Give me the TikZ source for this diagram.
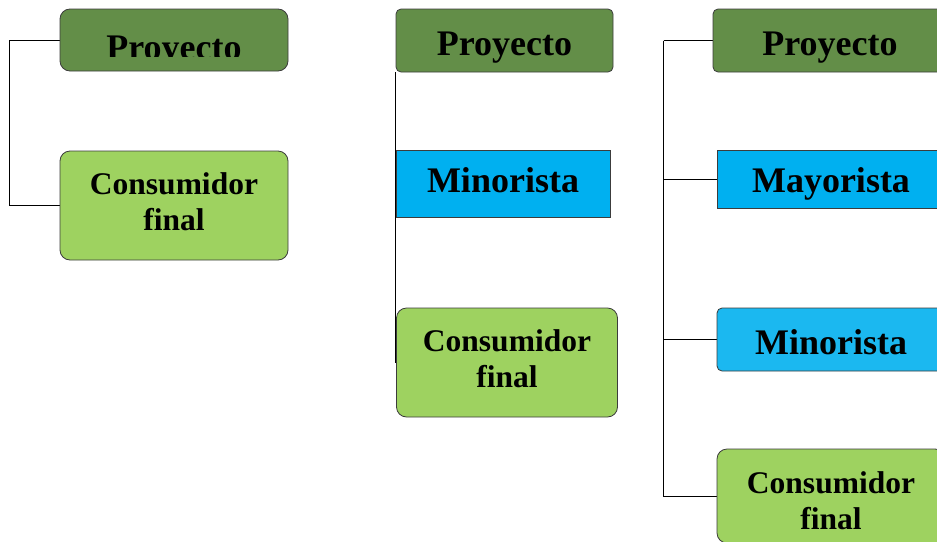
\documentclass[tikz,border=0pt]{standalone}
\usepackage{fontspec}
\setmainfont{Liberation Serif}
\usetikzlibrary{backgrounds}
\definecolor{proyectogreen}{RGB}{99,142,72}
\definecolor{consumidorgreen}{RGB}{158,210,96}
\definecolor{canalblue}{RGB}{0,176,240}
\definecolor{canallight}{RGB}{27,184,240}
\definecolor{boxborder}{RGB}{60,60,60}
\newcommand\lift{\rule[-8pt]{0pt}{0pt}}
\newcommand\drop{\rule{0pt}{31pt}}

\begin{document}
\begin{tikzpicture}[x=1pt, y=-1pt]
  \tikzset{
   box/.style={draw=boxborder, line width=.8pt, inner sep=0pt},
   single/.style={text depth=0pt, text height=#1},
   big/.style={font=\fontsize{36}{40}\selectfont\bfseries},
   proyecto/.style={box, big, fill=proyectogreen},
   canal/.style={box, big, fill=canalblue},
   consumidor/.style={box, fill=consumidorgreen, align=center,
    font=\fontsize{31.5}{36}\selectfont\bfseries},
   link/.style={line width=.8pt},
  }
  \useasboundingbox (0,0) rectangle (937,541);
  \clip (0,0) rectangle (937,541);

  \node [proyecto, rounded corners=10pt, minimum width=228pt, minimum height=62pt] (p1) at (174,40) {};
  \begin{scope}
   \clip (p1.north west) rectangle ([yshift=-16pt]p1.east);
   \node [big, anchor=base, inner sep=0pt] (p1text) at ([yshift=-19pt]p1.center) {Proyecto};
  \end{scope}
  \node [consumidor, rounded corners=10pt, minimum width=228pt, minimum height=109pt] (c1) at (174,205.5) {Consumidor\\final\lift};

  \node [proyecto, single=29pt, rounded corners=5pt, minimum width=217pt, minimum height=63pt] (p2) at (504.5,40.5) {Proyecto};
  \node [canal, single=17pt, minimum width=214pt, minimum height=67pt] (m2) at (503,183.5) {Minorista};
  \node [consumidor, rounded corners=10pt, minimum width=221pt, minimum height=109pt] (c2) at (507,362.5) {Consumidor\\final\lift};

  \node [proyecto, single=29pt, rounded corners=5pt, minimum width=234pt, minimum height=63pt] (p3) at (830,40.5) {Proyecto};
  \node [canal, single=26pt, minimum width=228pt, minimum height=58pt] (ma3) at (831,179) {Mayorista};
  \node [canal, single=29pt, fill=canallight, rounded corners=5pt, minimum width=228pt, minimum height=63pt] (mi3) at (831,339.5) {Minorista};
  \node [consumidor, rounded corners=10pt, minimum width=228pt, minimum height=94pt] (c3) at (831,496) {\drop Consumidor\\final};

  \begin{scope}[on background layer]
   \draw [link] (p1.west) -- ++(-50,0) |- (c1.west);
   \draw [link] (p2.south west) -- (p2.south west |- c2.west);
   \draw [link] (p3.west) -- ++(-49,0) coordinate (top3);
   \foreach \n in {ma3, mi3, c3}
    \draw [link] (top3) |- (\n.west);
  \end{scope}
\end{tikzpicture}
\end{document}
